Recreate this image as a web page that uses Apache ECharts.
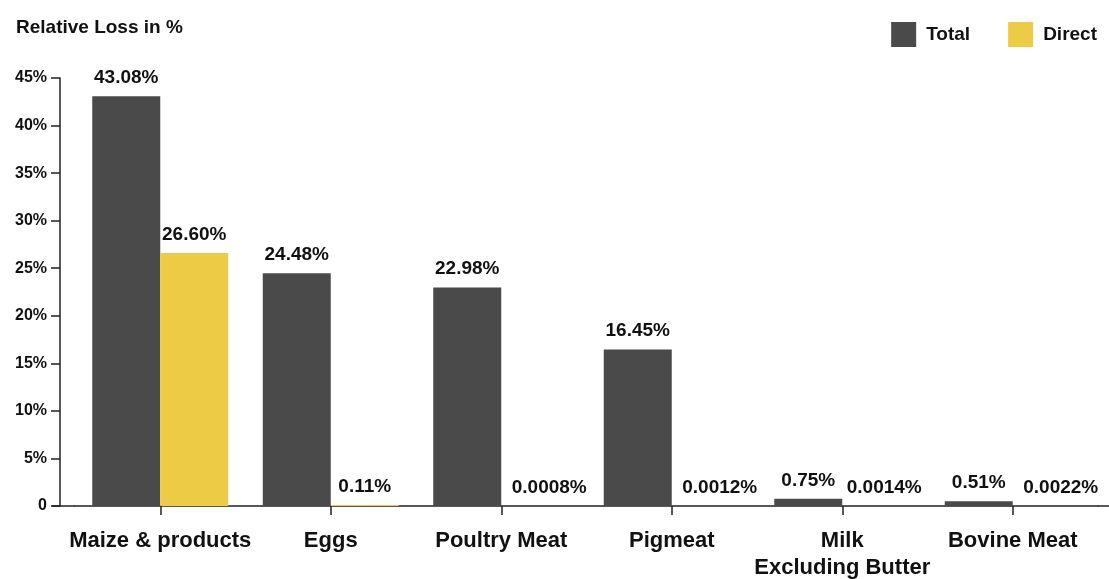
<!DOCTYPE html>
<html>
<head>
<meta charset="utf-8">
<script src="https://cdn.jsdelivr.net/npm/echarts@6/dist/echarts.min.js"></script>
<style>
  html, body { margin: 0; padding: 0; background: #fff; }
  #chart { width: 1109px; height: 579px; }
</style>
</head>
<body>
<div id="chart"></div>
<script>
// Relative loss per food product, total vs. direct
const categories = ['Maize & products', 'Eggs', 'Poultry Meat', 'Pigmeat', 'Milk\nExcluding Butter', 'Bovine Meat'];
const totalLoss = [43.08, 24.48, 22.98, 16.45, 0.75, 0.51];
const directLoss = [26.60, 0.11, 0.0008, 0.0012, 0.0014, 0.0022];
const yTicks = [0, 5, 10, 15, 20, 25, 30, 35, 40, 45];

const FONT = '"Liberation Sans", Arial, sans-serif';
const INK = '#111';

function pct(v) {
  return (v >= 0.01 ? v.toFixed(2) : v.toFixed(4)) + '%';
}

const chart = echarts.init(document.getElementById('chart'));

const GRID = { left: 75, right: 11, top: 78, bottom: 73 };

const labelStyle = {
  show: true,
  position: 'top',
  distance: 9,
  color: INK,
  fontFamily: FONT,
  fontWeight: 'bold',
  fontSize: 19,
  formatter: p => pct(p.value)
};

// the long four-decimal labels sit a little to the right of their thin bars
const directSeriesData = directLoss.map((v, i) => {
  const shift = v < 0.01 ? (i === 4 ? 8 : 14) : 0;
  return shift ? { value: v, label: { offset: [shift, 0] } } : v;
});

chart.setOption({
  animation: false,
  textStyle: { fontFamily: FONT },
  title: {
    text: 'Relative Loss in %',
    left: 11,
    top: 13,
    textStyle: { fontFamily: FONT, fontWeight: 'bold', fontSize: 19, color: INK }
  },
  legend: {
    right: 7,
    top: 17,
    itemWidth: 25,
    itemHeight: 25,
    itemGap: 38,
    icon: 'rect',
    textStyle: { fontFamily: FONT, fontWeight: 'bold', fontSize: 19, color: INK, padding: [0, 0, 0, 5] },
    data: ['Total', 'Direct']
  },
  grid: Object.assign({ outerBoundsMode: 'none', containLabel: false }, GRID),
  xAxis: {
    type: 'category',
    data: categories,
    axisLine: { lineStyle: { color: '#222', width: 1.5 } },
    axisTick: { show: true, length: 9, alignWithLabel: true, lineStyle: { color: '#222', width: 1.5 } },
    axisLabel: {
      margin: 21,
      color: INK,
      fontFamily: FONT,
      fontWeight: 'bold',
      fontSize: 22,
      lineHeight: 27,
      interval: 0
    }
  },
  yAxis: {
    type: 'value',
    min: 0,
    max: 45,
    interval: 5,
    offset: 15,
    splitLine: { show: false },
    axisLine: { show: true, lineStyle: { color: '#222', width: 1.5 } },
    axisTick: { show: true, length: 9, lineStyle: { color: '#222', width: 1.5 } },
    axisLabel: {
      margin: 13,
      color: INK,
      fontFamily: FONT,
      fontWeight: 'bold',
      fontSize: 16,
      formatter: v => (yTicks.indexOf(v) === 0 ? '0' : v + '%')
    }
  },
  series: [
    {
      name: 'Total',
      type: 'bar',
      data: totalLoss,
      barWidth: 68,
      barGap: '0%',
      itemStyle: { color: '#4a4a4a' },
      label: labelStyle
    },
    {
      name: 'Direct',
      type: 'bar',
      data: directSeriesData,
      barWidth: 68,
      barGap: '0%',
      itemStyle: { color: '#eecb45' },
      label: labelStyle
    }
  ]
});

// extend the baseline slightly past both ends of the plot area
const y0 = chart.convertToPixel({ yAxisIndex: 0 }, 0);
chart.setOption({
  graphic: [
    { type: 'line', shape: { x1: 52, y1: y0, x2: GRID.left, y2: y0 }, style: { stroke: '#222', lineWidth: 1.5 } },
    { type: 'line', shape: { x1: 1109 - GRID.right, y1: y0, x2: 1109, y2: y0 }, style: { stroke: '#222', lineWidth: 1.5 } }
  ]
});
</script>
</body>
</html>
